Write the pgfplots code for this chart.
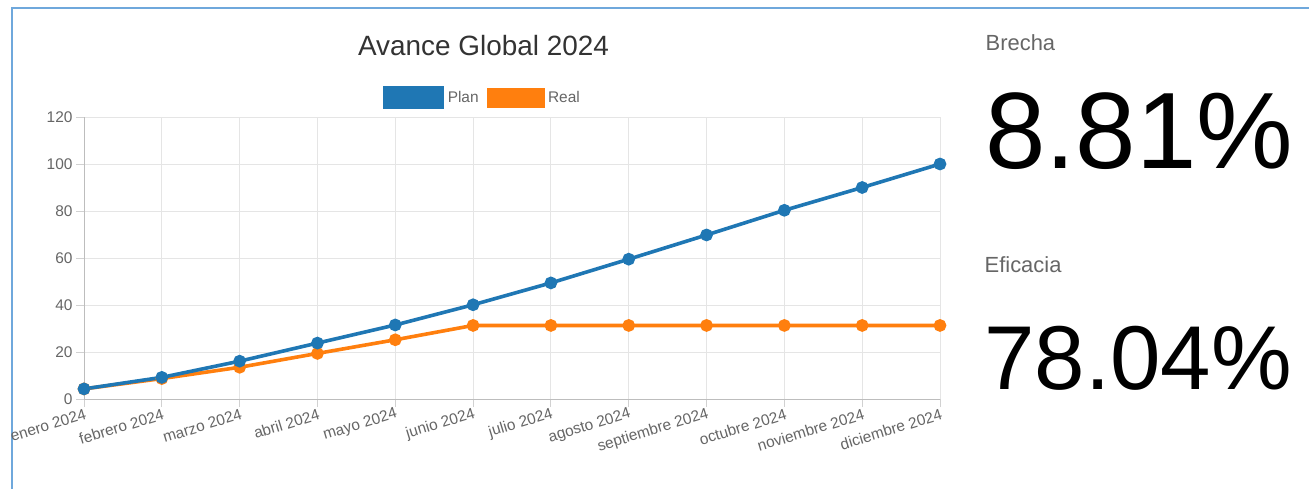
\documentclass[border=0pt]{standalone}
\usepackage{fontspec}
\setmainfont{Liberation Sans}
\usepackage{pgfplots}
\pgfplotsset{compat=1.18}
\definecolor{plan}{HTML}{1F77B4}
\definecolor{real}{HTML}{FF7F0E}
\definecolor{txt}{HTML}{666666}
\definecolor{titlec}{HTML}{333333}
\definecolor{gridc}{HTML}{E5E5E5}
\definecolor{zeroc}{HTML}{BDBDBD}
\definecolor{framec}{HTML}{6FA8DC}

\begin{document}
\begin{tikzpicture}
\useasboundingbox (0,0) rectangle (1309bp,-489bp);
\fill[white] (0,0) rectangle (1309bp,-489bp);
\draw[framec, line width=2bp] (12bp,-489bp) -- (12bp,-8bp) -- (1309bp,-8bp);

\node[anchor=base, inner sep=0, text=titlec, font=\fontsize{28}{32}\selectfont]
  at (483.5bp,-55bp) {Avance Global 2024};

\begin{axis}[
  at={(84bp,-399bp)}, anchor=south west,
  scale only axis, width=856bp, height=282bp,
  xmin=0, xmax=11, ymin=0, ymax=120,
  xtick={0,...,11},
  xticklabels={enero 2024, febrero 2024, marzo 2024, abril 2024, mayo 2024, junio 2024,
    julio 2024, agosto 2024, septiembre 2024, octubre 2024, noviembre 2024, diciembre 2024},
  ytick={0,20,...,120},
  axis lines=left,
  axis line style={-, draw=zeroc, line width=1bp},
  grid=major,
  major grid style={draw=gridc, line width=1bp},
  tick style={draw=zeroc!70, line width=1bp},
  major tick length=8bp,
  tick align=outside,
  ticklabel style={font=\fontsize{15.5}{18}\selectfont, text=txt},
  xticklabel style={rotate=17, anchor=east, yshift=-7bp, xshift=3bp},
  /pgf/number format/assume math mode=true,
  legend columns=2,
  legend style={at={(0.4667,1.069)}, anchor=center, draw=none, fill=none,
    font=\fontsize{15.5}{18}\selectfont, text=txt,
    nodes={inner xsep=4bp},
    /tikz/every even column/.append style={column sep=4bp}},
  clip=false,
]
\addplot[real, line width=3.6bp, mark=*, mark size=4.5bp, forget plot] coordinates {
  (0,4.3) (1,8.7) (2,13.5) (3,19.4) (4,25.2) (5,31.3)
  (6,31.3) (7,31.3) (8,31.3) (9,31.3) (10,31.3) (11,31.3)
};
\addplot[plan, line width=3.6bp, mark=*, mark size=4.5bp,
  legend image code/.code={\fill[plan] (0bp,-9.5bp) rectangle (57bp,9.5bp);}] coordinates {
  (0,4.3) (1,9.2) (2,16.1) (3,23.8) (4,31.5) (5,40.1)
  (6,49.4) (7,59.5) (8,69.8) (9,80.3) (10,90.0) (11,100)
};
\addlegendentry{Plan}
\addlegendimage{legend image code/.code={\fill[real] (0bp,-9.5bp) rectangle (57bp,9.5bp);}}
\addlegendentry{Real}
\end{axis}

\node[anchor=base west, inner sep=0, text=txt, font=\fontsize{22}{26}\selectfont]
  at (985.5bp,-50bp) {Brecha};
\node[anchor=base west, inner sep=0, font=\fontsize{109}{120}\selectfont]
  at (985bp,-168bp) {8.81\%};
\node[anchor=base west, inner sep=0, text=txt, font=\fontsize{22}{26}\selectfont]
  at (984.5bp,-272bp) {Eficacia};
\node[anchor=base west, inner sep=0, font=\fontsize{91}{100}\selectfont]
  at (984bp,-389bp) {78.04\%};
\end{tikzpicture}
\end{document}
